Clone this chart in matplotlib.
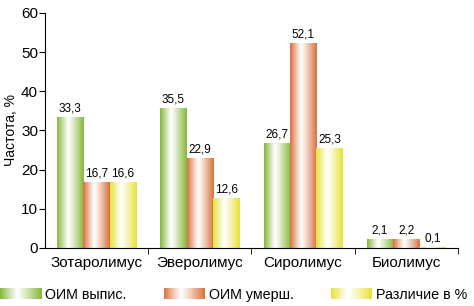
import numpy as np
import matplotlib
matplotlib.use('Agg')
import matplotlib.pyplot as plt
from matplotlib.colors import to_rgb
from matplotlib.patches import Rectangle
from matplotlib.legend_handler import HandlerBase

plt.rcParams['font.family'] = ['Liberation Sans Narrow', 'Liberation Sans', 'DejaVu Sans']

#################################################
# DATA
#################################################
categories = ['Зотаролимус', 'Эверолимус', 'Сиролимус', 'Биолимус']
series_names = ['ОИМ выпис.', 'ОИМ умерш.', 'Различие в %']
oim_vypis = [33.3, 35.5, 26.7, 2.1]
oim_umersh = [16.7, 22.9, 52.1, 2.2]
razlichie = [16.6, 12.6, 25.3, 0.1]

colors = ['#86b83a', '#d8723e', '#e6e23a']


def gradient_row(base, n=64):
    # colour at the edges, white a bit left of centre
    t = np.linspace(0, 1, n)
    c = 0.42
    w = np.where(t < c, (c - t) / c, (t - c) / (1 - c))
    w = np.clip(w, 0, 1) ** 1.1
    base = np.array(to_rgb(base))
    white = np.ones(3)
    return white[None, :] * (1 - w[:, None]) + base[None, :] * w[:, None]


class GradientHandler(HandlerBase):
    def create_artists(self, legend, orig_handle, xdescent, ydescent,
                       width, height, fontsize, trans):
        row = gradient_row(orig_handle.get_facecolor())
        n = len(row)
        arts = []
        for k in range(n):
            r = Rectangle((k * width / n, 0), width / n * 1.05, height,
                          facecolor=row[k], edgecolor='none', transform=trans)
            arts.append(r)
        return arts


fig = plt.figure(figsize=(4.74, 3.06), dpi=100)
ax = fig.add_axes([0.095, 0.19, 0.871, 0.768])

x = np.arange(len(categories))
bw = 0.255
all_series = [oim_vypis, oim_umersh, razlichie]

handles = []
for i, vals in enumerate(all_series):
    bars = ax.bar(x + (i - 1) * bw, vals, bw, color='none', edgecolor='none',
                  label=series_names[i])
    grad = gradient_row(colors[i])[None, :, :]
    for b, v in zip(bars, vals):
        ax.imshow(grad, extent=[b.get_x(), b.get_x() + b.get_width(), 0, b.get_height()],
                  aspect='auto', zorder=2, interpolation='bilinear')
        ax.text(b.get_x() + b.get_width() / 2, v + 0.8, ('%.1f' % v).replace('.', ','),
                ha='center', va='bottom', fontsize=8.5)
    handles.append(Rectangle((0, 0), 1, 1, facecolor=colors[i]))

ax.set_xlim(-0.5, 3.5)
ax.set_ylim(0, 60)
ax.set_yticks(np.arange(0, 61, 10))
ax.set_xticks(x)
ax.set_xticklabels(categories, fontsize=11)
ax.set_xticks(x + 0.5, minor=True)
ax.tick_params(axis='x', which='major', length=0, pad=6)
ax.tick_params(axis='x', which='minor', length=4, direction='out')
ax.tick_params(axis='y', labelsize=11, length=4, pad=1)
for s in ['top', 'right']:
    ax.spines[s].set_visible(False)
ax.set_ylabel('Частота, %', fontsize=10, labelpad=2)

fig.legend(handles, series_names, loc='lower left', ncol=3, frameon=False,
           fontsize=10.3, bbox_to_anchor=(0.0, 0.012), borderaxespad=0, borderpad=0,
           handlelength=2.9, handleheight=0.85, handletextpad=0.25,
           columnspacing=2.6,
           handler_map={Rectangle: GradientHandler()})

plt.savefig('out.png', dpi=100)
